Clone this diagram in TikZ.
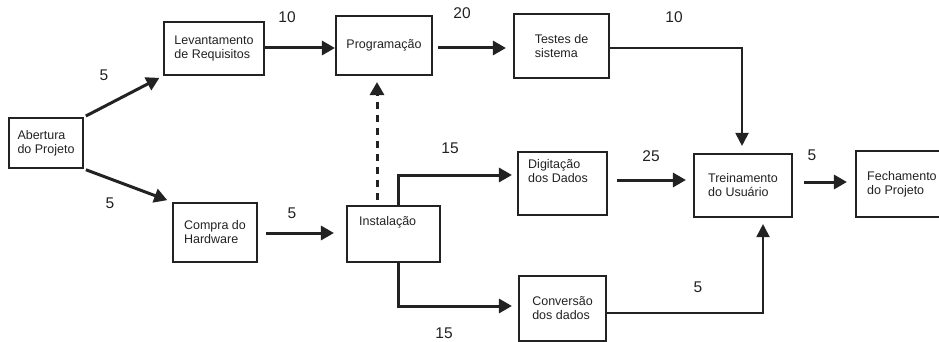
\documentclass[tikz,border=0pt]{standalone}
\usepackage{fontspec}
\setmainfont{Liberation Sans}
\usetikzlibrary{arrows.meta}
\definecolor{ink}{RGB}{34,34,34}
\begin{document}
\begin{tikzpicture}[x=1pt,y=-1pt,
  box/.style={draw=ink,line width=2.1pt,inner sep=0pt,font=\fontsize{12.5}{14}\selectfont,align=left,text=ink},
  txt/.style={inner sep=0pt,font=\fontsize{12.5}{14}\selectfont,align=left,text=ink},
  num/.style={inner sep=0pt,font=\fontsize{15.5}{18}\selectfont,text=ink},
  arr/.style={draw=ink,line width=3pt,-{Triangle[length=13pt,width=14pt]}},
  arrthin/.style={draw=ink,line width=2pt,-{Triangle[length=13pt,width=13pt]}}]
\useasboundingbox (0,0) rectangle (939,342);
\clip (0,0) rectangle (939,342);
% boxes
\node[box,minimum width=74pt,minimum height=50pt] (ab) at (46,143) {Abertura\\do Projeto};
\node[box,minimum width=100pt,minimum height=53pt] (lev) at (214,48.5) {Levantamento\\de Requisitos};
\node[box,minimum width=84pt,minimum height=59pt] (comp) at (215,232.5) {Compra do\\Hardware};
\node[box,minimum width=96pt,minimum height=59pt] (prog) at (384,45.5) {Programação};
\node[box,minimum width=95pt,minimum height=64pt] (test) at (561.5,46) {Testes de\\sistema};
\node[box,minimum width=93pt,minimum height=56pt] (inst) at (393.5,234) {};
\node[txt,anchor=west] (instT) at (359,222) {Instalação};
\node[box,minimum width=89pt,minimum height=63pt] (dig) at (562.5,183.5) {};
\node[txt,anchor=west] (digT) at (528,171.5) {Digitação\\dos Dados};
\node[box,minimum width=87pt,minimum height=65pt] (conv) at (562.5,308.5) {Conversão\\dos dados};
\node[box,minimum width=98pt,minimum height=63pt] (trein) at (743,185.5) {Treinamento\\do Usuário};
\node[box,minimum width=110pt,minimum height=66pt] (fech) at (911,184) {};
\node[txt,anchor=west] (fechT) at (867,184) {Fechamento\\do Projeto};
% connectors
\draw[arr,shorten <=2pt,shorten >=4pt] (ab.north east) -- (lev.south west);
\draw[arr,shorten <=2pt,shorten >=5pt] (ab.south east) -- (comp.north west);
\draw[arr] ([yshift=0.5pt]lev.east) -- ([yshift=0.5pt]lev.east -| prog.west);
\draw[arr,shorten <=5pt,shorten >=7pt] ([yshift=-2.5pt]prog.east) -- ([yshift=-2.5pt]prog.east -| test.west);
\draw[arrthin,shorten >=7pt] ([yshift=-2pt]test.east) -| ([xshift=-1pt]trein.north);
\draw[arr,shorten <=8pt,shorten >=12pt] ([yshift=-0.5pt]comp.east) -- ([yshift=-0.5pt]comp.east -| inst.west);
\draw[arr,dashed,dash pattern=on 7pt off 6pt,shorten <=5pt,shorten >=6pt] ([xshift=-16.5pt]inst.north) -- ([xshift=-16.5pt]inst.north |- prog.south);
\draw[arr,shorten >=5pt] ([xshift=4.5pt]inst.north) |- ([yshift=8.5pt]dig.west);
\draw[arr,shorten >=6pt] ([xshift=4.5pt]inst.south) |- ([yshift=2.5pt]conv.west);
\draw[arr,shorten <=9pt,shorten >=7pt] ([yshift=3.5pt]dig.east) -- ([yshift=5.5pt]trein.west);
\draw[arr,shorten <=11pt,shorten >=8pt] ([yshift=3.5pt]trein.east) -- ([yshift=2pt]fech.west);
\draw[arrthin,shorten >=6pt] ([yshift=-4.5pt]conv.east) -| ([xshift=20pt]trein.south);
% labels
\node[num] (l1) at (104,75) {5};
\node[num] (l2) at (110,203) {5};
\node[num] (l3) at (287,17) {10};
\node[num] (l4) at (292,213) {5};
\node[num] (l5) at (462,13) {20};
\node[num] (l6) at (450,148) {15};
\node[num] (l7) at (444,333) {15};
\node[num] (l8) at (674,17) {10};
\node[num] (l9) at (651,156) {25};
\node[num] (l10) at (812,155) {5};
\node[num] (l11) at (698,287) {5};
\end{tikzpicture}
\end{document}
